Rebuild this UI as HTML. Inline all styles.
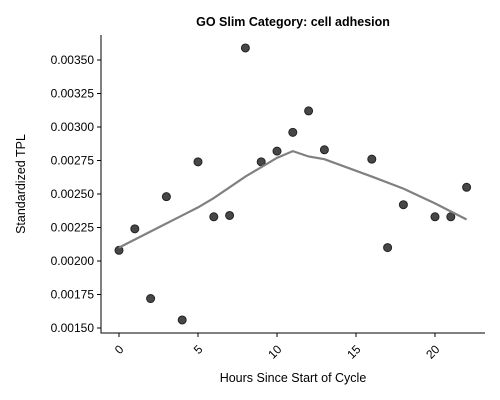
<!DOCTYPE html>
<html><head><meta charset="utf-8"><style>body{margin:0;background:#fff}svg{display:block;font-family:"Liberation Sans",sans-serif}</style></head>
<body>
<svg id="chart" width="500" height="400"></svg>
<script>
const hours=[0,1,2,3,4,5,6,7,8,9,10,11,12,13,16,17,18,20,21,22];
const tpl=[0.00208,0.00224,0.00172,0.00248,0.00156,0.00274,0.00233,0.00234,0.00359,0.00274,0.00282,0.00296,0.00312,0.00283,0.00276,0.00210,0.00242,0.00233,0.00233,0.00255];
const trendX=[0,2,4,5,6,8,10,11,12,13,16,18,20,22];
const trendY=[0.00210,0.00222,0.00234,0.00240,0.00247,0.00263,0.00277,0.00282,0.00278,0.00276,0.00263,0.00254,0.00243,0.00231];
const xTicks=[0,5,10,15,20];
const yTicks=[0.0015,0.00175,0.002,0.00225,0.0025,0.00275,0.003,0.00325,0.0035];
const NS="http://www.w3.org/2000/svg",svg=document.getElementById('chart');
const L=101,R=485,T=35,B=333;
const xs=v=>119+v*15.8;
const ys=v=>328-(v-0.0015)/0.00025*33.5;
function mk(t,a,p){const e=document.createElementNS(NS,t);for(const k in a)e.setAttribute(k,a[k]);(p||svg).appendChild(e);return e;}
let ax=mk('path',{d:`M${L},${T}V${B}H${R}`,stroke:'#000','stroke-width':1,fill:'none'});


xTicks.forEach(v=>{const x=xs(v);
 let t=mk('line',{x1:x,x2:x,y1:B,y2:B+4,stroke:'#000'});
 
 
 let l=mk('text',{x:x,y:B+16,'font-size':12,'text-anchor':'end',transform:`rotate(-45 ${x+4} ${B+10})`});
 l.textContent=v;
 
 });
yTicks.forEach(v=>{const y=ys(v);
 let t=mk('line',{x1:L-4,x2:L,y1:y,y2:y,stroke:'#000'});
 
 
 let l=mk('text',{x:L-7,y:y+4,'font-size':12,'text-anchor':'end'});
 l.textContent=v.toFixed(5);
 
 });
hours.forEach((h,i)=>{let c=mk('circle',{cx:xs(h),cy:ys(tpl[i]),r:4,fill:'#333','fill-opacity':0.9,stroke:'#222'});
 
 });
let tl=mk('polyline',{points:trendX.map((x,i)=>xs(x)+','+ys(trendY[i])).join(' '),fill:'none',stroke:'#808080','stroke-width':2.2});


let ti=mk('text',{x:293,y:26,'font-size':12.5,'font-weight':'bold','text-anchor':'middle'});ti.textContent='GO Slim Category: cell adhesion';


let xt=mk('text',{x:293,y:382,'font-size':12.5,'text-anchor':'middle'});xt.textContent='Hours Since Start of Cycle';


let yt=mk('text',{x:25,y:184,'font-size':12.5,'text-anchor':'middle',transform:'rotate(-90 25 184)'});yt.textContent='Standardized TPL';


</script>
</body></html>
